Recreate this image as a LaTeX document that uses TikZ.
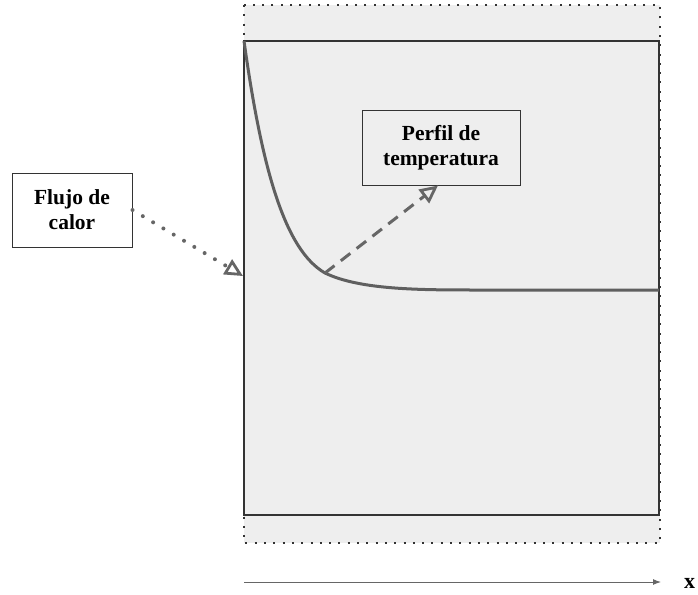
\documentclass[tikz,border=0pt]{standalone}
\usepackage{fontspec}
\setmainfont{Liberation Serif}
\usetikzlibrary{arrows.meta}
\definecolor{panel}{HTML}{EEEEEE}
\definecolor{edge}{HTML}{333333}
\definecolor{curvec}{HTML}{5F5F5F}
\definecolor{conn}{HTML}{666666}
\tikzset{
  label box/.style={draw=edge, line width=1pt, fill=white, align=center,
    font=\bfseries\fontsize{21.5}{25}\selectfont, inner sep=0pt},
  conn line/.style={draw=conn, line width=3pt,
    -{Triangle[open, length=18pt, width=17pt, line width=2.8pt, line cap=butt]}},
}
\begin{document}
\begin{tikzpicture}[x=1pt,y=-1pt]
\useasboundingbox (0,0) rectangle (698,594);
% outer dotted region
\draw[edge, line width=2pt, dash pattern=on 2pt off 7.3pt, fill=panel] (244,5) rectangle (660,543);
% inner solid rectangle
\draw[edge, line width=2pt] (244,41) rectangle (659,515);
% temperature profile
\coordinate (top) at (244,41);
\coordinate (knee) at (325,273);
\coordinate (flat) at (480,290);
\coordinate (wallR) at (659,290);
\draw[curvec, line width=3pt, line join=round]
  (top) .. controls (262,170) and (285,250) .. (knee)
        .. controls (360,290) and (420,290) .. (flat) -- (wallR);
\coordinate (wall) at (243,276);
% boxes
\node[label box, minimum width=120pt, minimum height=74pt] (flujo) at (72,210) {Flujo de\\calor};
\node[label box, fill=panel, minimum width=158pt, minimum height=75pt] (perfil) at (441,147.5) {Perfil de\\temperatura};
% connectors
\draw[conn line, line width=4pt, dash pattern=on 0pt off 12pt, line cap=round] (flujo.east) -- (wall);
\draw[conn line, dash pattern=on 12pt off 8pt] (knee) -- (perfil.south -| 438,0);
% axis
\coordinate (ax0) at (244,582);
\coordinate (ax1) at (661,582);
\draw[conn, line width=1pt, -{Latex[length=8pt, width=6pt]}] (ax0) -- (ax1);
\node[font=\bfseries\fontsize{22}{26}\selectfont, anchor=west, inner sep=0pt] (xl) at (684,583) {x};
\end{tikzpicture}
\end{document}
